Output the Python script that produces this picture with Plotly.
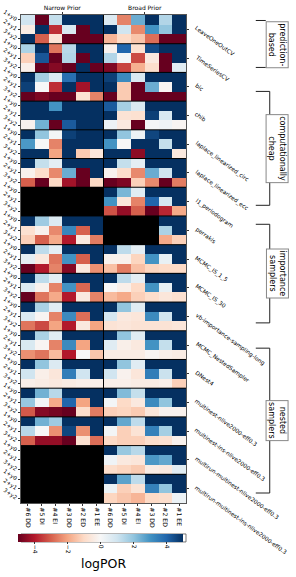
import plotly.graph_objects as go

nan = None
methods = ["LeaveOneOutCV", "TimeSeriesCV", "bic", "chib", "laplace_linearized_circ",
           "laplace_linearized_ecc", "l1_periodogram", "perrakis", "MCMC_IS_1_5", "MCMC_IS_30",
           "vb-importance-sampling-long", "MCMC_NestedSampler", "DNest4",
           "multinest-nlive2000-eff0.3", "multinest-ins-nlive2000-eff0.3",
           "multirun-multinest-nlive2000-eff0.3", "multirun-multinest-ins-nlive2000-eff0.3"]
row_labels = ["1+y0", "2+y1", "3+y2"]
col_labels = ["#6 DD", "#5 DI", "#4 EI", "#3 DD", "#2 ED", "#1 EE"]
priors = ["Narrow Prior", "Broad Prior"]
cticks = [-4, -2, 0, 2, 4]

logpor = [
 [1.0,-5,1.2,5,5,5, 0.7,-2.5,2.5,5,1.5,5],
 [-0.4,5,-3.7,0.8,-5,5, 5,1,-2.4,3,2,5],
 [5,-3,-0.7,-5,-5,-5, -1.7,-1,-1.4,-2.8,-5,-5],
 [1.6,5,-2.7,1.4,5,5, -0.2,4,-0.8,4.5,5,5],
 [-1.2,4.3,-5,1.5,-5,5, 1.5,0.1,-3.3,-0.5,-5,5],
 [-0.3,-5,-4.6,-5,5,-5, -4.7,-3.4,-1.8,-0.9,-5,0.6],
 [5,1.7,0.7,3.8,5,5, 4.7,3.2,0.8,5,5,5],
 [4.7,0,-3.7,5,-4.2,5, 5,-1.3,-5,2.5,-0.1,5],
 [-5,-4.7,-5,-5,-0.8,-2.5, -5,-1.3,-5,-5,-5,-5],
 [5,5,3,5,5,5, 4.2,1.7,0.8,5,5,5],
 [5,5,5,5,5,5, 5,-0.7,-0.8,4.7,0.8,5],
 [-0.2,2.4,-5,4.2,5,5, 0.3,-0.5,-5,0.1,0.2,-0.1],
 [5,2,0.1,4.7,5,5, 5,2,0.3,4.6,5,5],
 [2.9,0,-2.5,5,5,5, 3,0,5,5,1.2,5],
 [5,5,-2,5,-1.3,-0.6, 5,5,-4.5,5,5,-0.5],
 [5,1.2,0.5,5,5,5, 5,1.2,0.5,5,5,5],
 [-0.2,-0.9,-2.4,2.5,-5,5, -0.2,-0.9,-2.4,2.5,1,5],
 [-3,-5,-1,-4.2,-5,-1, -5,-4.7,-1.2,-2.4,-5,-2.6],
 [nan,nan,nan,nan,nan,nan, 5,2.3,0.6,5,5,5],
 [nan,nan,nan,nan,nan,nan, 3,-0.6,-2.5,4,0.9,5],
 [nan,nan,nan,nan,nan,nan, -3.2,-4.4,-3,-5,-3.8,-1.9],
 [5,1.8,0.7,5,5,5, nan,nan,nan,nan,5,5],
 [-0.8,-0.2,-2.4,3.3,-3,5, nan,nan,nan,nan,1.6,5],
 [-1.2,-3,-1.9,-4,-0.5,-2.6, nan,nan,nan,nan,-1.9,-1.2],
 [5,1.3,0.5,5,5,5, 5,1.3,0.5,5,5,5],
 [0.5,-0.5,-2.7,3,-3,5, -0.2,-0.2,-1.1,3,0.4,5],
 [-5,-4,-2.5,-4.6,-0.5,-2.3, -1.5,-2.6,-1.5,-1.1,-1,-1],
 [5,1.3,0.5,5,5,5, 5,1.3,0.5,5,5,5],
 [0.7,-0.2,-2.5,3,-2.9,5, 0,-0.3,-1,3,0.4,5],
 [-5,-2.7,-1.9,-4,-0.5,-2.5, -1.6,-1.9,-1.2,-0.9,-0.6,-0.8],
 [5,1.6,0.6,5,5,5, 5,2,0.6,5,5,5],
 [0.7,-0.1,-2.5,3.2,-2.8,5, 0.9,-0.5,-0.6,3.2,1,5],
 [-2.7,-3.3,-2,-4,-0.5,-2, -0.7,-0.6,-0.7,-0.7,-0.7,-0.6],
 [5,1.6,0.6,5,5,5, 5,2,0.6,5,5,5],
 [0.8,-0.1,-2.5,3.2,-2,5, 0.6,-0.3,-0.5,3,1.2,5],
 [-2.3,-2.7,-1.6,-4,0,-1.4, -0.4,-0.4,-0.4,-0.1,-0.3,-0.4],
 [5,2,0.7,5,5,5, 5,2,0.6,5,5,5],
 [1,-0.3,-0.6,3.5,1,5, 1,-0.2,-0.6,3.5,1.1,5],
 [-0.3,-0.4,-0.5,-0.4,-0.3,-0.3, -0.3,-0.3,-0.4,-0.4,-0.3,-1.2],
 [5,2.4,1.4,5,5,5, 5,2.2,1.2,5,5,5],
 [1.9,0.1,-1.9,4,-2,5, 0.1,-1,-0.5,3.2,2,5],
 [-3.1,-4.6,-4.8,-5,-0.9,-2.6, -1.2,-1.1,-1.3,-0.6,-0.2,-0.2],
 [5,2.4,1.8,5,5,5, 5,2.6,1.3,5,5,5],
 [1.4,0,-2.3,4.6,-2.3,5, 0.1,-1.2,-0.7,3.4,1.7,5],
 [-3,-4.4,-4.4,-5,-0.8,-2.8, -1,-1.2,-1.2,-0.9,-0.8,-0.2],
 [nan,nan,nan,nan,nan,nan, 5,1.9,1.4,5,5,5],
 [nan,nan,nan,nan,nan,nan, 0.2,-0.5,-0.6,2.9,2.6,5],
 [nan,nan,nan,nan,nan,nan, -0.9,-1.1,-1.3,-0.4,-0.5,0.6],
 [nan,nan,nan,nan,nan,nan, 5,2.7,1.3,5,5,5],
 [nan,nan,nan,nan,nan,nan, 0.3,-1.2,-0.7,3.4,2,5],
 [nan,nan,nan,nan,nan,nan, -1.1,-1.4,-1.7,-1,-0.9,0.3],
]

rdbu = ["#67001f", "#b2182b", "#d6604d", "#f4a582", "#fddbc7", "#f7f7f7",
        "#d1e5f0", "#92c5de", "#4393c3", "#2166ac", "#053061"]
colorscale = [[i / 10, c] for i, c in enumerate(rdbu)]

W, H = 296, 577
L, R, T, B = 20.5, 186, 14.5, 503
FONT = "DejaVu Sans"
n_rows, n_cols, n_groups = len(logpor), len(logpor[0]), len(methods)
yrange = [n_rows - 0.5, -0.5]
xrange = [-0.5, n_cols - 0.5]
group_centres = [g * 3 + 1 for g in range(n_groups)]

def px(x):
    return (x - L) / (R - L)
def py(y):
    return (B - y) / (B - T)

fig = go.Figure()
fig.add_trace(go.Heatmap(
    z=logpor, zmin=-5, zmax=5, colorscale=colorscale, hoverongaps=False,
    x=list(range(n_cols)), y=list(range(n_rows)), xgap=0, ygap=0,
    colorbar=dict(
        orientation="h", lenmode="fraction", len=1, thickness=8,
        thicknessmode="pixels", x=(L + 12.5) / W, xref="container", xanchor="left",
        y=(H - 534) / H, yref="container", yanchor="top", xpad=0, ypad=0,
        outlinewidth=0, tickvals=cticks, ticks="outside", ticklen=2,
        tickwidth=0.7, tickcolor="#333", tickangle=90,
        ticktext=[str(t).replace("-", "\u2212") for t in cticks],
        tickfont=dict(size=6, family=FONT, color="black"),
    ),
))
fig.add_trace(go.Scatter(x=[None], y=[None], xaxis="x2", yaxis="y2", showlegend=False, hoverinfo="skip"))

shapes = []
for g in range(1, n_groups):
    yy = g * 3 - 0.5
    shapes.append(dict(type="line", xref="x", yref="y", x0=xrange[0], x1=xrange[1], y0=yy, y1=yy,
                       line=dict(color="black", width=1)))
shapes.append(dict(type="line", xref="x", yref="y", x0=n_cols / 2 - 0.5, x1=n_cols / 2 - 0.5,
                   y0=yrange[0], y1=yrange[1], line=dict(color="black", width=1)))

def paper_line(x0, y0, x1, y1):
    return dict(type="line", xref="paper", yref="paper", x0=px(x0), x1=px(x1), y0=py(y0), y1=py(y1),
                line=dict(color="#222", width=1))

# frame round the colour bar
shapes.append(dict(type="rect", xref="paper", yref="paper", x0=0, x1=1, y0=py(534), y1=py(542),
                   line=dict(color="#555", width=0.8), fillcolor="rgba(0,0,0,0)"))

brackets = [
    ("prediction-<br>based", 20, 67, 18.5, 69.5, False),
    ("computationally<br>cheap", 91, 205, 111, 185, True),
    ("importance<br>samplers", 224, 322.7, 247, 300, True),
    ("nested<br>samplers", 348, 493, 398.5, 442, True),
]
annotations = [dict(text="logPOR", xref="paper", yref="paper", x=0.5, y=py(564), xanchor="center",
                    yanchor="middle", showarrow=False, font=dict(size=12.5, family=FONT, color="black"))]
for name, yc in zip(methods, group_centres):
    annotations.append(dict(text=name, textangle=36, xref="paper", yref="y", x=1, y=yc, xshift=5,
                            yshift=7, xanchor="left", yanchor="top", showarrow=False,
                            font=dict(size=5.7, family=FONT, color="black")))
for text, y0, y1, by0, by1, has_vert in brackets:
    xe = 270 if has_vert else 266
    shapes.append(paper_line(256, y0, xe, y0))
    shapes.append(paper_line(256, y1, xe, y1))
    if has_vert:
        shapes.append(paper_line(xe, y0, xe, y1))
    annotations.append(dict(
        text=text, textangle=90, xref="paper", yref="paper", x=px(277.5), y=py((by0 + by1) / 2),
        xanchor="center", yanchor="middle", showarrow=False, bgcolor="white", bordercolor="#888",
        borderwidth=1, borderpad=1, font=dict(size=8, family=FONT, color="black"), align="center",
    ))

axis_common = dict(ticks="outside", ticklen=2, tickwidth=0.7, tickcolor="#333", showgrid=False, zeroline=False,
                   showline=True, linecolor="#555", linewidth=1, automargin=False, tickmode="array")

fig.update_layout(
    width=W, height=H, autosize=False, showlegend=False,
    margin=dict(l=L, r=W - R, t=T, b=H - B, pad=0),
    paper_bgcolor="white", plot_bgcolor="black",
    font=dict(family=FONT, color="black"),
    shapes=shapes, annotations=annotations,
    xaxis=dict(range=xrange, tickvals=list(range(n_cols)), ticktext=col_labels * 2, tickangle=90,
               tickfont=dict(size=6.2, family=FONT), **axis_common),
    yaxis=dict(range=yrange, tickvals=list(range(n_rows)), ticktext=row_labels * n_groups, tickangle=35,
               tickfont=dict(size=5.5, family=FONT), **axis_common),
    xaxis2=dict(range=xrange, overlaying="x", side="top",
                tickvals=[n_cols / 4 - 0.5, 3 * n_cols / 4 - 0.5], ticktext=priors,
                tickfont=dict(size=6, family=FONT), **axis_common),
    yaxis2=dict(range=yrange, overlaying="y", side="right", tickvals=group_centres,
                showticklabels=False, **axis_common),
)
fig.write_html("out.html", post_script="document.body.style.margin='0';window.dispatchEvent(new Event('resize'));",
               config={"displayModeBar": False})
